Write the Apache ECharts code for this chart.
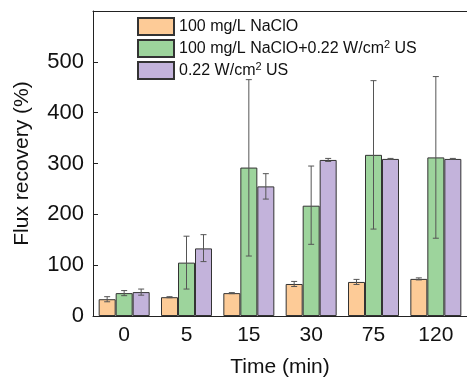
<!DOCTYPE html>
<html>
<head>
<meta charset="utf-8">
<script src="https://cdn.jsdelivr.net/npm/echarts@6/dist/echarts.min.js"></script>
<style>
  html, body { margin: 0; padding: 0; background: #fff; }
  #chart { width: 467px; height: 383px; }
</style>
</head>
<body>
<div id="chart"></div>
<script>
// time points (min)
const categories = ['0', '5', '15', '30', '75', '120'];
const seriesNames = ['100 mg/L NaClO', '100 mg/L NaClO+0.22 W/cm² US', '0.22 W/cm² US'];

// mean flux recovery (%)
const naclo = [33, 37, 45, 63, 67, 73];
const nacloUs = [45, 105, 292, 217, 317, 312];
const us = [47, 133, 255, 307, 309, 309];

// error bar low / high
const nacloLow = [28, 36, 44, 58, 62, 71];
const nacloHigh = [38, 38, 46, 68, 72, 75];
const nacloUsLow = [40, 53, 118, 141, 171, 153];
const nacloUsHigh = [50, 157, 465, 295, 463, 471];
const usLow = [41, 107, 230, 304, 308, 308];
const usHigh = [53, 160, 280, 310, 310, 310];

const colors = ['#fdcb97', '#9dd49c', '#c3b3db'];
const BAR_W = 17;

const means = [naclo, nacloUs, us];
const lows = [nacloLow, nacloUsLow, usLow];
const highs = [nacloHigh, nacloUsHigh, usHigh];

const chart = echarts.init(document.getElementById('chart'));

function errorSeries(idx) {
  const data = categories.map((c, i) => [i, lows[idx][i], highs[idx][i]]);
  return {
    type: 'custom',
    name: 'err' + idx,
    z: 5,
    data: data,
    encode: { x: 0, y: [1, 2] },
    renderItem: function (params, api) {
      const lo = api.coord([api.value(0), api.value(1)]);
      const hi = api.coord([api.value(0), api.value(2)]);
      const x = lo[0] + (idx - 1) * BAR_W;
      const cap = 3;
      const style = { stroke: '#555', lineWidth: 1 };
      return {
        type: 'group',
        children: [
          { type: 'line', shape: { x1: x, y1: lo[1], x2: x, y2: hi[1] }, style: style },
          { type: 'line', shape: { x1: x - cap, y1: lo[1], x2: x + cap, y2: lo[1] }, style: style },
          { type: 'line', shape: { x1: x - cap, y1: hi[1], x2: x + cap, y2: hi[1] }, style: style }
        ]
      };
    }
  };
}

const barSeries = seriesNames.map((name, i) => ({
  name: name,
  type: 'bar',
  barWidth: BAR_W,
  barGap: '0%',
  data: means[i],
  itemStyle: { color: colors[i], borderColor: '#333', borderWidth: 1 }
}));

const font = 'Liberation Sans, Arial, sans-serif';

chart.setOption({
  animation: false,
  textStyle: { fontFamily: font },
  grid: { left: 93, right: -6, top: 11, bottom: 67 },
  legend: {
    data: seriesNames,
    orient: 'vertical',
    left: 132,
    top: 12,
    icon: 'rect',
    itemWidth: 36,
    itemHeight: 17,
    itemGap: 3,
    formatter: function (n) {
      return n.replace('cm²', 'cm{sup|2}');
    },
    textStyle: {
      fontFamily: font,
      fontSize: 16,
      color: '#111',
      rich: {
        sup: { fontSize: 11, verticalAlign: 'top', padding: [0, 0, 8, 0], color: '#111', fontFamily: font }
      }
    }
  },
  xAxis: [{
    type: 'category',
    data: categories,
    z: 10,
    name: 'Time (min)',
    nameLocation: 'middle',
    nameGap: 41,
    nameTextStyle: { fontSize: 21, color: '#111', fontFamily: font },
    axisLine: { lineStyle: { color: '#222', width: 1 } },
    axisTick: { inside: true, length: 5, alignWithLabel: true, lineStyle: { color: '#222' } },
    axisLabel: { fontSize: 21, color: '#111', margin: 9, fontFamily: font }
  }, {
    type: 'category',
    data: categories,
    position: 'top',
    axisLine: { show: true, lineStyle: { color: '#222', width: 1 } },
    axisTick: { show: false },
    axisLabel: { show: false }
  }],
  yAxis: {
    type: 'value',
    min: 0,
    max: 600,
    interval: 100,
    z: 10,
    name: 'Flux recovery (%)',
    nameLocation: 'middle',
    nameGap: 60,
    nameTextStyle: { fontSize: 21, color: '#111', fontFamily: font },
    axisLine: { show: true, lineStyle: { color: '#222', width: 1 } },
    axisTick: { show: true, inside: true, length: 5, lineStyle: { color: '#222' } },
    splitLine: { show: false },
    axisLabel: {
      fontSize: 22, color: '#111', margin: 9, fontFamily: font,
      formatter: v => (v === 600 ? '' : String(v))
    }
  },
  series: barSeries.concat([errorSeries(0), errorSeries(1), errorSeries(2)])
});
</script>
</body>
</html>
